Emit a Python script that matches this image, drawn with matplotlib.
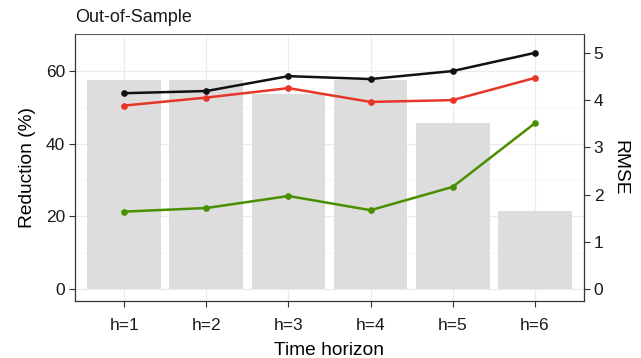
import matplotlib
matplotlib.use("Agg")
import matplotlib.pyplot as plt
from matplotlib.ticker import MultipleLocator

plt.rcParams['font.family'] = ['Liberation Sans', 'DejaVu Sans']

horizons = ["h=1", "h=2", "h=3", "h=4", "h=5", "h=6"]
rmse = [4.42, 4.42, 4.13, 4.42, 3.51, 1.65]
red_line = [50.5, 52.7, 55.3, 51.5, 52.0, 58.1]
black_line = [53.9, 54.5, 58.6, 57.8, 60.0, 65.0]
green_line = [21.3, 22.3, 25.6, 21.7, 28.1, 45.6]
scale = 13.0

x = list(range(1, len(horizons) + 1))

fig = plt.figure(figsize=(6.41, 3.58), dpi=100)
ax = fig.add_axes([75/641, (358-301)/358, (584-75)/641, (301-34)/358])

ax.set_xlim(0.4, 6.6)
ax.set_ylim(-3.3, 70.2)

ax.yaxis.set_major_locator(MultipleLocator(20))
ax.yaxis.set_minor_locator(MultipleLocator(10))
ax.set_xticks(x)
ax.set_xticklabels(horizons)
ax.grid(True, which='major', color='#EBEBEB', linewidth=0.9, zorder=0)
ax.grid(True, which='minor', axis='y', color='#F2F2F2', linewidth=0.5, zorder=0)
ax.set_axisbelow(True)

ax.bar(x, [r * scale for r in rmse], width=0.9, color='#DDDDDD', zorder=1)
ax.plot(x, black_line, color='#111111', lw=1.8, marker='o', ms=3.8, zorder=3)
ax.plot(x, red_line, color='#E8352A', lw=1.8, marker='o', ms=3.8, zorder=3)
ax.plot(x, green_line, color='#4A8F00', lw=1.8, marker='o', ms=3.8, zorder=3)

for s in ax.spines.values():
    s.set_color('#333333')
    s.set_linewidth(0.9)
ax.spines['top'].set_color('#555555')
ax.spines['top'].set_linewidth(0.7)

ax.tick_params(axis='both', which='major', length=4, width=0.8, color='#333333',
               labelsize=12.5, labelcolor='#1a1a1a', pad=3)
ax.tick_params(axis='y', which='minor', length=0)
ax.tick_params(axis='x', pad=8)

ax2 = ax.twinx()
ax2.set_ylim(-3.3/scale, 70.2/scale)
ax2.set_yticks([0, 1, 2, 3, 4, 5])
ax2.tick_params(axis='y', length=4, width=0.8, color='#333333', labelsize=12.5,
                labelcolor='#1a1a1a', pad=3)
for s in ax2.spines.values():
    s.set_visible(False)

ax.set_xlabel("Time horizon", fontsize=13.8, labelpad=6.5)
ax.set_ylabel("Reduction (%)", fontsize=13.8, labelpad=7)
ax2.set_ylabel("RMSE", fontsize=13.8, rotation=270, labelpad=18)

fig.text(75/641, 1 - 18/358, "Out-of-Sample", fontsize=13, ha='left', va='center', color='#1a1a1a')

fig.savefig("out.png", dpi=100)
